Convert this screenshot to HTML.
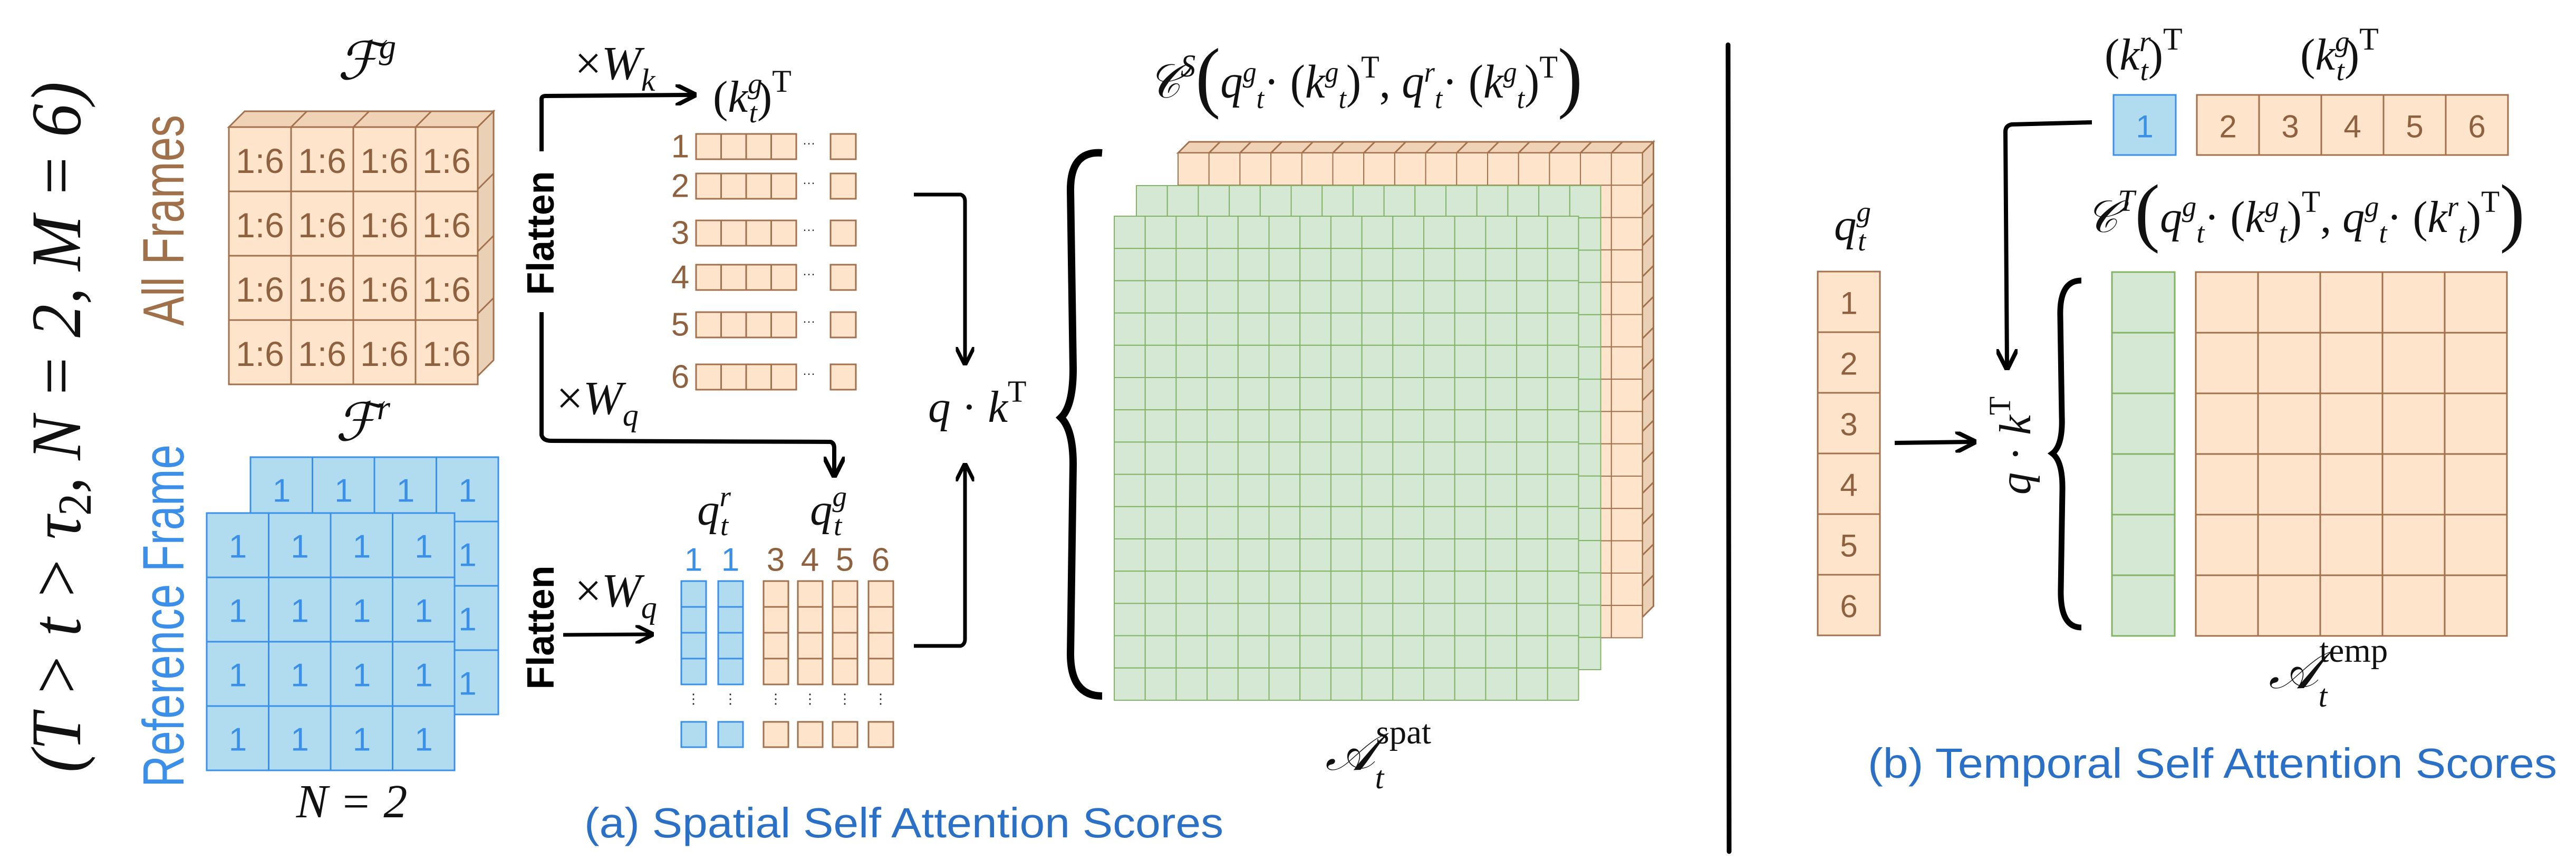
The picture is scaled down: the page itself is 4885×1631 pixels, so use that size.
<!DOCTYPE html>
<html><head><meta charset="utf-8"><style>
html,body{margin:0;padding:0;background:#fff;}
svg{display:block;}
.m{font-family:"Liberation Serif",serif;fill:#111;}
.c{font-family:"Liberation Sans",sans-serif;}
</style></head><body>
<svg id="fig" width="4885" height="1631" viewBox="0 0 4885 1631" xmlns="http://www.w3.org/2000/svg">
<defs>
<marker id="ah" viewBox="0 0 10 10" refX="8" refY="5" markerWidth="5" markerHeight="5" orient="auto"><path d="M0,0 L10,5 L0,10" fill="none" stroke="#000" stroke-width="2"/></marker>
</defs>
<g id="g"></g>

<!-- left rotated condition -->
<text class="m" font-size="135" font-style="italic" transform="translate(152,810) rotate(-90)" text-anchor="middle" textLength="1310" lengthAdjust="spacingAndGlyphs">(T &gt; t &gt; τ<tspan font-size="90" dy="20" font-style="normal">2</tspan><tspan dy="-20">, N = 2, M = 6)</tspan></text>
<text class="c" fill="#a0704a" font-size="110" transform="translate(348,418) rotate(-90)" text-anchor="middle" textLength="400" lengthAdjust="spacingAndGlyphs">All Frames</text>
<text class="c" fill="#3b8fe8" font-size="110" transform="translate(348,1168) rotate(-90)" text-anchor="middle" textLength="650" lengthAdjust="spacingAndGlyphs">Reference Frame</text>

<text class="m" font-size="100" font-style="italic" x="640" y="150">ℱ<tspan font-size="65" dy="-40">g</tspan></text>
<text class="m" font-size="100" font-style="italic" x="636" y="835">ℱ<tspan font-size="65" dy="-40">r</tspan></text>
<text class="m" font-size="90" font-style="italic" x="667" y="1550" text-anchor="middle">N = 2</text>

<!-- flatten labels -->
<text class="c" font-size="72" font-weight="bold" transform="translate(1050,442) rotate(-90)" text-anchor="middle" textLength="235" lengthAdjust="spacingAndGlyphs">Flatten</text>
<text class="c" font-size="72" font-weight="bold" transform="translate(1050,1190) rotate(-90)" text-anchor="middle" textLength="235" lengthAdjust="spacingAndGlyphs">Flatten</text>
<path d="M1027,287 L1027,188 Q1027,182 1035,182 L1313,180" fill="none" stroke="#000" stroke-width="8" marker-end="url(#ah)"/>
<path d="M1027,592 L1027,825 Q1030,836 1045,836 L1575,838 Q1582,840 1582,850 L1582,898" fill="none" stroke="#000" stroke-width="8" marker-end="url(#ah)"/>
<path d="M1068,1204 L1233,1203" fill="none" stroke="#000" stroke-width="7" marker-end="url(#ah)"/>
<text class="m" font-size="90" x="1090" y="150">×<tspan font-style="italic">W</tspan><tspan font-style="italic" font-size="60" dy="22">k</tspan></text>
<text class="m" font-size="90" x="1055" y="785">×<tspan font-style="italic">W</tspan><tspan font-style="italic" font-size="60" dy="22">q</tspan></text>
<text class="m" font-size="90" x="1090" y="1150">×<tspan font-style="italic">W</tspan><tspan font-style="italic" font-size="60" dy="22">q</tspan></text>
<text class="m" font-size="85" x="1352" y="212">(<tspan font-style="italic">k</tspan><tspan font-style="italic" font-size="55" dy="-35">g</tspan><tspan font-style="italic" font-size="55" dx="-25" dy="55">t</tspan><tspan dy="-20">)</tspan><tspan font-size="60" dy="-38">T</tspan></text>
<text class="m" font-size="85" font-style="italic" x="1322" y="995">q<tspan font-size="55" dy="-35">r</tspan><tspan font-size="55" dx="-20" dy="55">t</tspan></text>
<text class="m" font-size="85" font-style="italic" x="1536" y="995">q<tspan font-size="55" dy="-35">g</tspan><tspan font-size="55" dx="-25" dy="55">t</tspan></text>

<!-- arrows to q.k -->
<path d="M1733,369 L1822,369 Q1830,372 1830,382 L1830,686" fill="none" stroke="#000" stroke-width="7" marker-end="url(#ah)"/>
<path d="M1733,1225 L1822,1225 Q1830,1222 1830,1212 L1830,885" fill="none" stroke="#000" stroke-width="7" marker-end="url(#ah)"/>
<text class="m" font-size="85" x="1760" y="800"><tspan font-style="italic">q</tspan> · <tspan font-style="italic">k</tspan><tspan font-size="58" dy="-38">T</tspan></text>
<path d="M2090,290 Q2030,285 2030,360 L2035,700 Q2035,770 2012,792 Q2035,815 2035,880 L2030,1240 Q2030,1320 2090,1320" fill="none" stroke="#000" stroke-width="14"/>
<text class="m" font-size="90" x="2177" y="185" textLength="824" lengthAdjust="spacingAndGlyphs"><tspan font-style="italic">𝒞</tspan><tspan font-style="italic" font-size="60" dy="-40">S</tspan><tspan font-size="150" dy="50">(</tspan><tspan font-style="italic" dy="-10">q</tspan><tspan font-size="55" dy="-30" font-style="italic">g</tspan><tspan font-size="55" dy="50" font-style="italic">t</tspan><tspan dy="-20">· (</tspan><tspan font-style="italic">k</tspan><tspan font-size="55" dy="-30" font-style="italic">g</tspan><tspan font-size="55" dy="50" font-style="italic">t</tspan><tspan dy="-20">)</tspan><tspan font-size="60" dy="-38">T</tspan><tspan dy="38">, </tspan><tspan font-style="italic">q</tspan><tspan font-size="55" dy="-30" font-style="italic">r</tspan><tspan font-size="55" dy="50" font-style="italic">t</tspan><tspan dy="-20">· (</tspan><tspan font-style="italic">k</tspan><tspan font-size="55" dy="-30" font-style="italic">g</tspan><tspan font-size="55" dy="50" font-style="italic">t</tspan><tspan dy="-20">)</tspan><tspan font-size="60" dy="-38">T</tspan><tspan font-size="150" dy="48">)</tspan></text>
<text class="m" font-size="100" x="2513" y="1460"><tspan font-style="italic">𝒜</tspan><tspan font-size="60" font-style="italic" dy="35">t</tspan><tspan font-size="65" dx="-15" dy="-85">spat</tspan></text>
<text class="c" fill="#2a70c6" font-size="80" x="1108" y="1588" textLength="1212" lengthAdjust="spacingAndGlyphs">(a) Spatial Self Attention Scores</text>

<line x1="3277" y1="85" x2="3279" y2="1615" stroke="#000" stroke-width="9" stroke-linecap="round"/>

<!-- temporal -->
<text class="m" font-size="85" x="3991" y="132">(<tspan font-style="italic">k</tspan><tspan font-style="italic" font-size="55" dy="-35">r</tspan><tspan font-style="italic" font-size="55" dx="-20" dy="55">t</tspan><tspan dy="-20">)</tspan><tspan font-size="60" dy="-38">T</tspan></text>
<text class="m" font-size="85" x="4362" y="132">(<tspan font-style="italic">k</tspan><tspan font-style="italic" font-size="55" dy="-35">g</tspan><tspan font-style="italic" font-size="55" dx="-25" dy="55">t</tspan><tspan dy="-20">)</tspan><tspan font-size="60" dy="-38">T</tspan></text>
<path d="M3967,232 L3815,236 Q3803,238 3803,250 L3806,694" fill="none" stroke="#000" stroke-width="8" marker-end="url(#ah)"/>
<path d="M3593,840 L3740,838" fill="none" stroke="#000" stroke-width="8" marker-end="url(#ah)"/>
<text class="m" font-size="85" transform="translate(3850,845) rotate(-90)" text-anchor="middle"><tspan font-style="italic">q</tspan> · <tspan font-style="italic">k</tspan><tspan font-size="58" dy="-38">T</tspan></text>
<text class="m" font-size="85" font-style="italic" x="3478" y="455">q<tspan font-size="55" dy="-35">g</tspan><tspan font-size="55" dx="-25" dy="55">t</tspan></text>
<path d="M3947,532 Q3905,532 3907,600 L3910,790 Q3912,845 3892,860 Q3912,875 3911,930 L3908,1120 Q3907,1190 3947,1190" fill="none" stroke="#000" stroke-width="11"/>
<text class="m" font-size="85" x="3955" y="440" textLength="833" lengthAdjust="spacingAndGlyphs"><tspan font-style="italic">𝒞</tspan><tspan font-style="italic" font-size="58" dy="-40">T</tspan><tspan font-size="145" dy="50">(</tspan><tspan font-style="italic" dy="-10">q</tspan><tspan font-size="55" dy="-30" font-style="italic">g</tspan><tspan font-size="55" dy="50" font-style="italic">t</tspan><tspan dy="-20">· (</tspan><tspan font-style="italic">k</tspan><tspan font-size="55" dy="-30" font-style="italic">g</tspan><tspan font-size="55" dy="50" font-style="italic">t</tspan><tspan dy="-20">)</tspan><tspan font-size="58" dy="-38">T</tspan><tspan dy="38">, </tspan><tspan font-style="italic">q</tspan><tspan font-size="55" dy="-30" font-style="italic">g</tspan><tspan font-size="55" dy="50" font-style="italic">t</tspan><tspan dy="-20">· (</tspan><tspan font-style="italic">k</tspan><tspan font-size="55" dy="-30" font-style="italic">r</tspan><tspan font-size="55" dy="50" font-style="italic">t</tspan><tspan dy="-20">)</tspan><tspan font-size="58" dy="-38">T</tspan><tspan font-size="145" dy="48">)</tspan></text>
<text class="m" font-size="100" x="4302" y="1305"><tspan font-style="italic">𝒜</tspan><tspan font-size="60" font-style="italic" dy="35">t</tspan><tspan font-size="65" dx="-15" dy="-85">temp</tspan></text>
<text class="c" fill="#2a70c6" font-size="80" x="3542" y="1475" textLength="1307" lengthAdjust="spacingAndGlyphs">(b) Temporal Self Attention Scores</text>
</svg>
<script>
var NS='http://www.w3.org/2000/svg';
var G=document.getElementById('g');
var OR={f:'#fde4cb',s:'#a3714d',t:'#8f613f'}, BL={f:'#b1dcf0',s:'#3a8fe8',t:'#3a8fe8'}, GR={f:'#d5e8d4',s:'#82b366'};
function rect(x,y,w,h,c,name,sw){
  var r=document.createElementNS(NS,'rect');
  r.setAttribute('x',x);r.setAttribute('y',y);r.setAttribute('width',w);r.setAttribute('height',h);
  r.setAttribute('fill',c.f);r.setAttribute('stroke',c.s);r.setAttribute('stroke-width',sw||3);
  
  
  G.appendChild(r);return r;
}
function txt(x,y,s,c,fs,name){
  var t=document.createElementNS(NS,'text');
  t.setAttribute('x',x);t.setAttribute('y',y);t.setAttribute('fill',c);t.setAttribute('font-size',fs);
  t.setAttribute('text-anchor','middle');t.setAttribute('dominant-baseline','central');
  t.setAttribute('font-family','Liberation Sans, sans-serif');
  t.textContent=s;
  
  
  G.appendChild(t);return t;
}
function poly(pts,fill,name){
  var p=document.createElementNS(NS,'polygon');
  p.setAttribute('points',pts);p.setAttribute('fill',fill);p.setAttribute('stroke','#a3714d');p.setAttribute('stroke-width',3);
  
  
  G.appendChild(p);
}
function cube(x,y,n,cw,d,name){
  poly(x+','+y+' '+(x+d)+','+(y-d)+' '+(x+n*cw+d)+','+(y-d)+' '+(x+n*cw)+','+y,'#f0d3b6',name+'-top');
  poly((x+n*cw)+','+y+' '+(x+n*cw+d)+','+(y-d)+' '+(x+n*cw+d)+','+(y+n*cw-d)+' '+(x+n*cw)+','+(y+n*cw),'#ead0b5',name+'-side');
  for(var i=1;i<n;i++){
    var l=document.createElementNS(NS,'path');
    l.setAttribute('d','M'+(x+i*cw)+','+y+' l'+d+','+(-d)+' M'+(x+n*cw)+','+(y+i*cw)+' l'+d+','+(-d));
    l.setAttribute('stroke','#a3714d');l.setAttribute('stroke-width',3);
    
    
    G.appendChild(l);
  }
}
// F^g cube
cube(434,241,4,118,30,'fg-cube');
for(var r=0;r<4;r++)for(var c=0;c<4;c++){rect(434+c*118,241+r*122,118,122,OR,'fg-cell');txt(434+c*118+59,241+r*122+64,'1:6',OR.t,66,'fg-cell-label');}
// F^r layers
for(var r=0;r<4;r++)for(var c=0;c<4;c++){rect(475+c*117.5,867+r*122,117.5,122,BL,'fr-back-cell');txt(475+c*117.5+59,867+r*122+64,'1',BL.t,62,'fr-back-label');}
for(var r=0;r<4;r++)for(var c=0;c<4;c++){rect(392+c*117.5,973+r*122,117.5,122,BL,'fr-front-cell');txt(392+c*117.5+59,973+r*122+64,'1',BL.t,62,'fr-front-label');}
// key rows
var rowTops=[254,329,418,502,592,691];
for(var i=0;i<6;i++){
  var y=rowTops[i];
  txt(1290,y+24,String(i+1),OR.t,62,'key-row-number');
  for(var c=0;c<4;c++)rect(1320+c*47.5,y,47.5,48,OR,'key-cell');
  txt(1534,y+18,'···','#222',24,'key-ellipsis');
  rect(1575,y,48,48,OR,'key-last-cell');
}
// query columns
var colX=[1292,1362,1448,1513,1579,1647], colLab=['1','1','3','4','5','6'];
for(var i=0;i<6;i++){
  var cc=i<2?BL:OR;
  txt(colX[i]+23,1062,colLab[i],cc.t,62,'query-col-number');
  for(var r=0;r<4;r++)rect(colX[i],1102+r*49,47,49,cc,'query-cell');
  txt(colX[i]+23,1325,'⋮','#222',26,'query-ellipsis');
  rect(colX[i],1369,47,48,cc,'query-last-cell');
}
// spatial attention grids
cube(2234,290,15,58.7,21,'spatial-orange-layer');
for(var r=0;r<15;r++)for(var c=0;c<15;c++)rect(2234+c*58.7,290+r*61.3,58.7,61.3,OR,'spatial-orange-cell',2);
for(var r=0;r<15;r++)for(var c=0;c<15;c++)rect(2155+c*58.7,352+r*61.2,58.7,61.2,GR,'spatial-green-mid-cell',2);
for(var r=0;r<15;r++)for(var c=0;c<15;c++)rect(2113+c*58.7,410+r*61.2,58.7,61.2,GR,'spatial-green-front-cell',2);
// temporal
rect(4008,180,118,114,BL,'kr-cell');txt(4067,240,'1',BL.t,60,'kr-label');
for(var c=0;c<5;c++){rect(4166+c*118,180,118,114,OR,'kg-cell');txt(4166+c*118+59,240,String(c+2),OR.t,60,'kg-label');}
for(var r=0;r<6;r++){rect(3447,515+r*115,118,115,OR,'qg-cell');txt(3506,575+r*115,String(r+1),OR.t,60,'qg-label');}
for(var r=0;r<6;r++)rect(4005,516+r*115,119,115,GR,'temporal-green-cell');
for(var r=0;r<6;r++)for(var c=0;c<5;c++)rect(4164+c*118,516+r*115,118,115,OR,'temporal-orange-cell');
</script>
</body></html>
